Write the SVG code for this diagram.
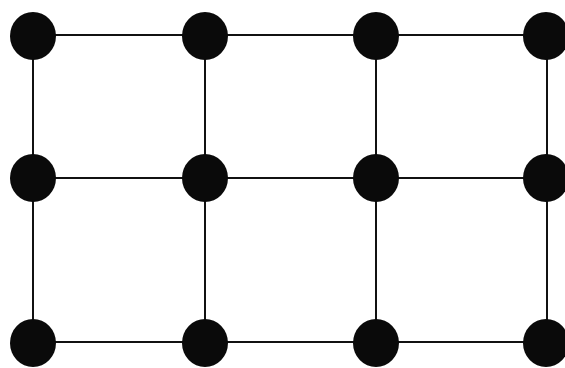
<svg xmlns="http://www.w3.org/2000/svg" width="565" height="368" viewBox="0 0 565 368">
<style>
.e{stroke:#111;stroke-width:2;fill:none}
.n{fill:#0a0a0a}
</style>
<rect width="565" height="368" fill="#fff"/>
<g id="connectors">
<line class="e" x1="33" y1="35" x2="546" y2="35"/>
<line class="e" x1="33" y1="178" x2="546" y2="178"/>
<line class="e" x1="33" y1="342" x2="546" y2="342"/>
<line class="e" x1="33" y1="36" x2="33" y2="343"/>
<line class="e" x1="205" y1="36" x2="205" y2="343"/>
<line class="e" x1="376" y1="36" x2="376" y2="343"/>
<line class="e" x1="547" y1="36" x2="547" y2="343"/>
</g>
<g id="n11"><ellipse class="n" cx="33" cy="36" rx="23" ry="24"/></g>
<g id="n12"><ellipse class="n" cx="205" cy="36" rx="23" ry="24"/></g>
<g id="n13"><ellipse class="n" cx="376" cy="36" rx="23" ry="24"/></g>
<g id="n14"><ellipse class="n" cx="546" cy="36" rx="23" ry="24"/></g>
<g id="n21"><ellipse class="n" cx="33" cy="178" rx="23" ry="24"/></g>
<g id="n22"><ellipse class="n" cx="205" cy="178" rx="23" ry="24"/></g>
<g id="n23"><ellipse class="n" cx="376" cy="178" rx="23" ry="24"/></g>
<g id="n24"><ellipse class="n" cx="546" cy="178" rx="23" ry="24"/></g>
<g id="n31"><ellipse class="n" cx="33" cy="343" rx="23" ry="24"/></g>
<g id="n32"><ellipse class="n" cx="205" cy="343" rx="23" ry="24"/></g>
<g id="n33"><ellipse class="n" cx="376" cy="343" rx="23" ry="24"/></g>
<g id="n34"><ellipse class="n" cx="546" cy="343" rx="23" ry="24"/></g>
</svg>
